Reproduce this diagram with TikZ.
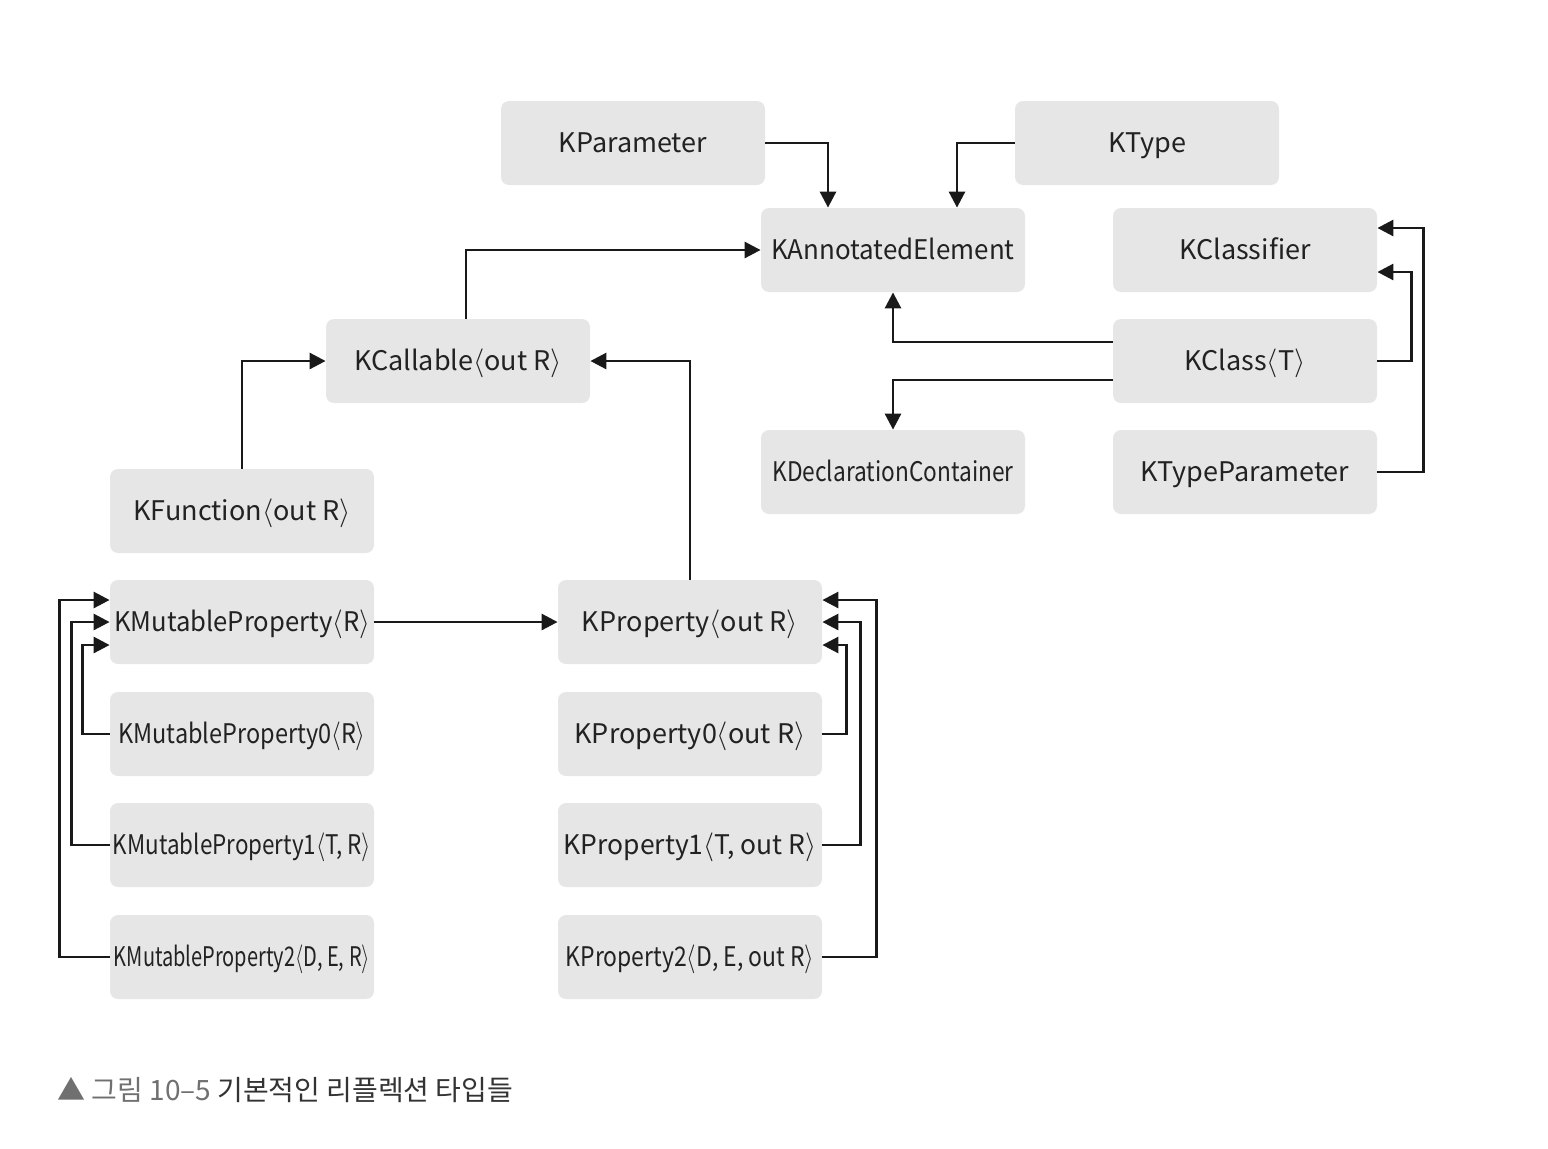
\documentclass[tikz,border=0pt]{standalone}
\usepackage{fontspec}
\setmainfont{Noto Sans CJK KR}
\usetikzlibrary{arrows.meta,calc}
\definecolor{boxfill}{HTML}{E6E6E6}
\definecolor{txt}{HTML}{222222}
\definecolor{capgray}{HTML}{707070}
\definecolor{capdark}{HTML}{333333}
\newcommand{\lang}{\ensuremath{\langle}}
\newcommand{\rang}{\ensuremath{\rangle}}
\newcommand{\squeeze}[2]{\scalebox{#1}[1]{#2}}
\begin{document}
\begin{tikzpicture}[x=0.5pt,y=-0.5pt,
  kbox/.style={draw=none,fill=boxfill,rounded corners=4pt,minimum width=132pt,minimum height=42pt,inner sep=0pt,text height=12pt,text depth=3pt,text=txt,font=\fontsize{13.5pt}{16pt}\selectfont},
  arr/.style={draw=black!90,line width=1.4pt,-{Triangle[length=8pt,width=8pt]}}]
\useasboundingbox (0,0) rectangle (1548,1148);
\node[kbox] (kparam) at (633,143) {KParameter};
\node[kbox] (ktype) at (1147,143) {KType};
\node[kbox] (kannot) at (893,250) {\squeeze{0.96}{KAnnotatedElement}};
\node[kbox] (kclassif) at (1245,250) {KClassifier};
\node[kbox] (kcall) at (458,361) {KCallable\lang out R\rang};
\node[kbox] (kclass) at (1245,361) {KClass\lang T\rang};
\node[kbox] (kdecl) at (893,472) {\squeeze{0.84}{KDeclarationContainer}};
\node[kbox] (ktparam) at (1245,472) {KTypeParameter};
\node[kbox] (kfunc) at (242,511) {KFunction\lang out R\rang};
\node[kbox] (kmut) at (242,622) {\squeeze{0.95}{KMutableProperty\lang R\rang}};
\node[kbox] (kprop) at (690,622) {KProperty\lang out R\rang};
\node[kbox] (kmut0) at (242,734) {\squeeze{0.87}{KMutableProperty0\lang R\rang}};
\node[kbox] (kprop0) at (690,734) {KProperty0\lang out R\rang};
\node[kbox] (kmut1) at (242,845) {\squeeze{0.83}{KMutableProperty1\lang T, R\rang}};
\node[kbox] (kprop1) at (690,845) {\squeeze{0.98}{KProperty1\lang T, out R\rang}};
\node[kbox] (kmut2) at (242,957) {\squeeze{0.74}{KMutableProperty2\lang D, E, R\rang}};
\node[kbox] (kprop2) at (690,957) {\squeeze{0.85}{KProperty2\lang D, E, out R\rang}};

\draw[arr] (kparam.east) -| ($(kannot.north)+(-65,0)$);
\draw[arr] (ktype.west) -| ($(kannot.north)+(64,0)$);
\draw[arr] ($(kcall.north)+(8,0)$) |- (kannot.west);
\draw[arr] ($(kclass.west)+(0,-19)$) -| (kannot.south);
\draw[arr] ($(kclass.west)+(0,19)$) -| (kdecl.north);
\draw[arr] (kclass.east) -- ++(34,0) |- ($(kclassif.east)+(0,22)$);
\draw[arr] (ktparam.east) -- ++(46,0) |- ($(kclassif.east)+(0,-22)$);
\draw[arr] (kfunc.north) |- (kcall.west);
\draw[arr] (kprop.north) |- (kcall.east);
\draw[arr] (kmut.east) -- (kprop.west);
\draw[arr] (kmut0.west) -- ++(-27,0) |- ($(kmut.west)+(0,23)$);
\draw[arr] (kmut1.west) -- ++(-38,0) |- (kmut.west);
\draw[arr] (kmut2.west) -- ++(-50,0) |- ($(kmut.west)+(0,-22)$);
\draw[arr] (kprop0.east) -- ++(24,0) |- ($(kprop.east)+(0,23)$);
\draw[arr] (kprop1.east) -- ++(38,0) |- (kprop.east);
\draw[arr] (kprop2.east) -- ++(54,0) |- ($(kprop.east)+(0,-22)$);

\node[anchor=west,inner sep=0pt,font=\fontsize{14pt}{17pt}\selectfont] (cap) at (57,1090)
  {\textcolor{capgray}{▲ 그림 10–5} \textcolor{capdark}{기본적인 리플렉션 타입들}};
\end{tikzpicture}
\end{document}
